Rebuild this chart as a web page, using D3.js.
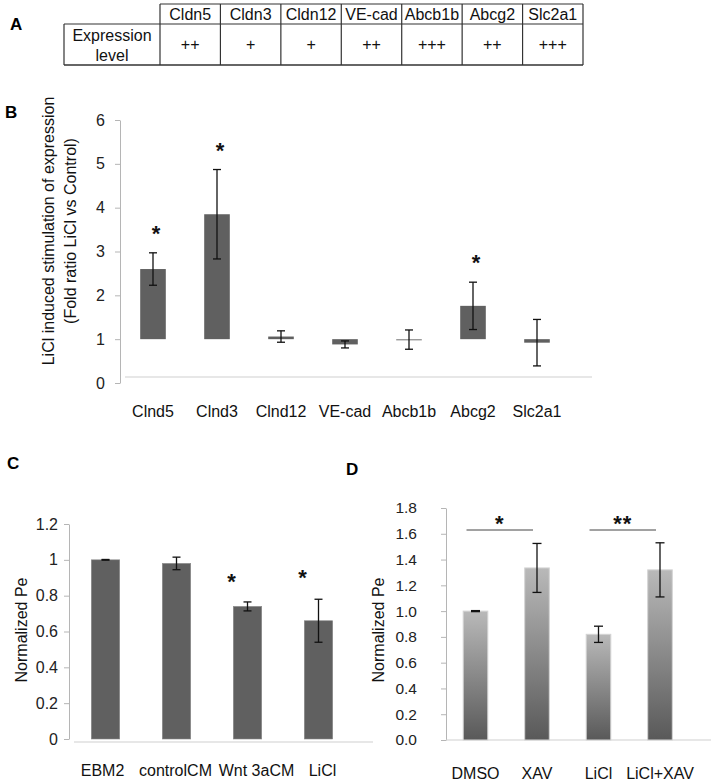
<!DOCTYPE html>
<html><head><meta charset="utf-8">
<script src="https://cdn.jsdelivr.net/npm/d3@7"></script>
<style>
body{margin:0;background:#fff;}
svg{display:block;font-family:"Liberation Sans",Arial,sans-serif;}
</style></head>
<body>
<svg id="c" width="711" height="782"></svg>
<script>
// ---------- DATA ----------
const tableGenes = ["Cldn5","Cldn3","Cldn12","VE-cad","Abcb1b","Abcg2","Slc2a1"];
const tableLevels = ["++","+","+","++","+++","++","+++"];

const bCats = ["Clnd5","Clnd3","Clnd12","VE-cad","Abcb1b","Abcg2","Slc2a1"];
const bVals = [2.60, 3.85, 1.06, 0.88, 0.99, 1.76, 0.92];
const bErr  = [0.37, 1.02, 0.13, 0.08, 0.22, 0.54, 0.53];
const bSig  = ["*","*","","","","*",""];
const bTicks = [0,1,2,3,4,5,6];

const cCats = ["EBM2","controlCM","Wnt 3aCM","LiCl"];
const cVals = [1.00, 0.98, 0.74, 0.66];
const cErr  = [0.002, 0.035, 0.025, 0.12];
const cSig  = ["","","*","*"];
const cTicks = [0,0.2,0.4,0.6,0.8,1,1.2];

const dCats = ["DMSO","XAV","LiCl","LiCl+XAV"];
const dVals = [1.00, 1.335, 0.82, 1.32];
const dErr  = [0.004, 0.19, 0.063, 0.21];
const dTicks = [0,0.2,0.4,0.6,0.8,1.0,1.2,1.4,1.6,1.8];
const dBrackets = [{from:"DMSO",to:"XAV",label:"*"},{from:"LiCl",to:"LiCl+XAV",label:"**"}];

// ---------- SETUP ----------
const svg = d3.select("#c");
const defs = svg.append("defs");
const grad = defs.append("linearGradient").attr("id","gD").attr("x1",0).attr("y1",0).attr("x2",0).attr("y2",1);
grad.append("stop").attr("offset","0%").attr("stop-color","#b9b9b9");
grad.append("stop").attr("offset","100%").attr("stop-color","#595959");

function panelLabel(t,x,y){
  svg.append("text").attr("x",x).attr("y",y).attr("font-size",17).attr("font-weight","bold").attr("fill","#000").text(t);
}

// ---------- PANEL A: table ----------
panelLabel("A",10,30);
const tx = d3.scaleBand().domain(tableGenes).range([160,583]);
const tA = svg.append("g");
const lineC = "#333";
const tTop = 4, tMid = 24, tBot = 65, tLeft = 64;
tA.append("line").attr("x1",160).attr("x2",583).attr("y1",tTop).attr("y2",tTop).attr("stroke",lineC).attr("stroke-width",1.2);
tA.append("line").attr("x1",tLeft).attr("x2",583).attr("y1",tMid).attr("y2",tMid).attr("stroke",lineC).attr("stroke-width",1.2);
tA.append("line").attr("x1",tLeft).attr("x2",583).attr("y1",tBot).attr("y2",tBot).attr("stroke",lineC).attr("stroke-width",1.6);
tA.append("line").attr("x1",tLeft).attr("x2",tLeft).attr("y1",tMid).attr("y2",tBot).attr("stroke",lineC).attr("stroke-width",1.2);
tableGenes.forEach(g=>{
  tA.append("line").attr("x1",tx(g)).attr("x2",tx(g)).attr("y1",tTop).attr("y2",tBot).attr("stroke",lineC).attr("stroke-width",1.2);
});
tA.append("line").attr("x1",583).attr("x2",583).attr("y1",tTop).attr("y2",tBot).attr("stroke",lineC).attr("stroke-width",1.2);
tA.selectAll("text.h").data(tableGenes).join("text").attr("class","h")
  .attr("x",d=>tx(d)+tx.bandwidth()/2).attr("y",20).attr("text-anchor","middle").attr("font-size",16).attr("fill","#111").text(d=>d);
tA.selectAll("text.v").data(tableLevels).join("text").attr("class","v")
  .attr("x",(d,i)=>tx(tableGenes[i])+tx.bandwidth()/2).attr("y",50).attr("text-anchor","middle").attr("font-size",16).attr("fill","#111").text(d=>d);
tA.append("text").attr("x",112).attr("y",41).attr("text-anchor","middle").attr("font-size",16).attr("fill","#111").text("Expression");
tA.append("text").attr("x",112).attr("y",61).attr("text-anchor","middle").attr("font-size",16).attr("fill","#111").text("level");

// ---------- helpers ----------
function yAxis(g, y, ticks, fmt, pad, fs){
  const ax = d3.axisLeft(y).tickValues(ticks).tickFormat(fmt).tickSize(5).tickSizeOuter(0).tickPadding(pad);
  g.call(ax);
  g.select(".domain").attr("stroke","#b5b5b5");
  g.selectAll(".tick line").attr("stroke","#b5b5b5");
  g.selectAll(".tick text").attr("font-size",fs).attr("fill","#222").attr("font-family","Liberation Sans, Arial, sans-serif");
}
function xLabels(g, x, fs, shifts){
  g.call(d3.axisBottom(x).tickSize(0).tickPadding(0));
  g.select(".domain").remove();
  g.selectAll(".tick text").attr("dy","0.35em").attr("font-size",fs).attr("fill","#111").attr("font-family","Liberation Sans, Arial, sans-serif")
    .attr("dx",(d,i)=>shifts?shifts[i]:0);
}
function errBars(g, cats, vals, errs, x, y, cap){
  cats.forEach((c,i)=>{
    const cx = x(c)+x.bandwidth()/2;
    const y1 = y(vals[i]+errs[i]), y2 = y(vals[i]-errs[i]);
    g.append("line").attr("x1",cx).attr("x2",cx).attr("y1",y1).attr("y2",y2).attr("stroke","#111").attr("stroke-width",1.3);
    [y1,y2].forEach(yy=>g.append("line").attr("x1",cx-cap/2).attr("x2",cx+cap/2).attr("y1",yy).attr("y2",yy).attr("stroke","#111").attr("stroke-width",1.3));
  });
}
function yTitle(lines, xs, cy, fs){
  lines.forEach((t,i)=>{
    svg.append("text").attr("transform",`translate(${xs[i]},${cy}) rotate(-90)`).attr("text-anchor","middle")
      .attr("dy","0.35em").attr("font-size",fs).attr("fill","#111").text(t);
  });
}

// ---------- PANEL B ----------
panelLabel("B",5,118);
const bx = d3.scaleBand().domain(bCats).range([121,569]).paddingInner(0.6).paddingOuter(0.3);
const by = d3.scaleLinear().domain([0,6]).range([383,120]);
const gB = svg.append("g");
yAxis(gB.append("g").attr("transform","translate(120,0)"), by, bTicks, d3.format("d"), 10, 16);
gB.append("line").attr("x1",125).attr("x2",592).attr("y1",377).attr("y2",377).attr("stroke","#cfcfcf").attr("stroke-width",1.2);
gB.selectAll("rect.bar").data(bCats).join("rect").attr("class","bar")
  .attr("x",d=>bx(d)).attr("width",bx.bandwidth())
  .attr("y",(d,i)=>Math.min(by(1),by(bVals[i])))
  .attr("height",(d,i)=>Math.max(1.2,Math.abs(by(1)-by(bVals[i]))))
  .attr("fill",(d,i)=>Math.abs(bVals[i]-1)<0.02?"#888":"#606060");
errBars(gB, bCats, bVals, bErr, bx, by, 8);
gB.selectAll("text.sig").data(bCats).join("text").attr("class","sig")
  .attr("x",d=>bx(d)+bx.bandwidth()/2+3).attr("y",(d,i)=>by(bVals[i]+bErr[i])-12)
  .attr("text-anchor","middle").attr("font-size",22).attr("font-weight","bold").attr("fill","#111").text((d,i)=>bSig[i]);
xLabels(gB.append("g").attr("transform","translate(0,411)"), bx, 16);
yTitle(["LiCl induced stimulation of expression","(Fold ratio LiCl vs Control)"],[48,70],231,16);

// ---------- PANEL C ----------
panelLabel("C",7,469);
const cx = d3.scaleBand().domain(cCats).range([70,354]).paddingInner(0.6).paddingOuter(0.3);
const cy = d3.scaleLinear().domain([0,1.2]).range([739,524]);
const gC = svg.append("g");
yAxis(gC.append("g").attr("transform","translate(69,0)"), cy, cTicks, d3.format("~g"), 6, 16);
gC.append("line").attr("x1",74).attr("x2",373).attr("y1",742).attr("y2",742).attr("stroke","#cfcfcf").attr("stroke-width",1.2);
gC.selectAll("rect.bar").data(cCats).join("rect").attr("class","bar")
  .attr("x",d=>cx(d)).attr("width",cx.bandwidth())
  .attr("y",(d,i)=>cy(cVals[i])).attr("height",(d,i)=>cy(0)-cy(cVals[i]))
  .attr("fill","#606060").attr("stroke","#8a8a8a").attr("stroke-width",0.6);
errBars(gC, cCats, cVals, cErr, cx, cy, 8);
gC.selectAll("text.sig").data(cCats).join("text").attr("class","sig")
  .attr("x",d=>cx(d)+cx.bandwidth()/2-16).attr("y",(d,i)=>i===2?589:585)
  .attr("text-anchor","middle").attr("font-size",22).attr("font-weight","bold").attr("fill","#111").text((d,i)=>cSig[i]);
xLabels(gC.append("g").attr("transform","translate(0,770)"), cx, 16, [-3,-1,9,4]);
yTitle(["Normalized Pe"],[21],630,16);

// ---------- PANEL D ----------
panelLabel("D",346,475);
const dx = d3.scaleBand().domain(dCats).range([444.75,690.75]).paddingInner(0.6).paddingOuter(0.3);
const dy = d3.scaleLinear().domain([0,1.8]).range([740,508]);
const gD = svg.append("g");
yAxis(gD.append("g").attr("transform","translate(446,0)"), dy, dTicks, d3.format(".1f"), 24, 15.5);
gD.append("line").attr("x1",446).attr("x2",711).attr("y1",740).attr("y2",740).attr("stroke","#cfcfcf").attr("stroke-width",1.2);
gD.selectAll("rect.bar").data(dCats).join("rect").attr("class","bar")
  .attr("x",d=>dx(d)).attr("width",dx.bandwidth())
  .attr("y",(d,i)=>dy(dVals[i])).attr("height",(d,i)=>dy(0)-dy(dVals[i]))
  .attr("fill","url(#gD)").attr("stroke","#d4d4d4").attr("stroke-width",1);
errBars(gD, dCats, dVals, dErr, dx, dy, 9);
dBrackets.forEach(b=>{
  const x1 = dx(b.from)+dx.bandwidth()/2-9, x2 = dx(b.to)+dx.bandwidth()/2-4;
  gD.append("line").attr("x1",x1).attr("x2",x2).attr("y1",530).attr("y2",530).attr("stroke","#444").attr("stroke-width",1);
  gD.append("text").attr("x",(x1+x2)/2).attr("y",531).attr("text-anchor","middle").attr("font-size",22)
    .attr("font-weight","bold").attr("letter-spacing",1).attr("fill","#111").text(b.label);
});
xLabels(gD.append("g").attr("transform","translate(0,773)"), dx, 16);
yTitle(["Normalized Pe"],[378],630,16);
</script>
</body></html>
